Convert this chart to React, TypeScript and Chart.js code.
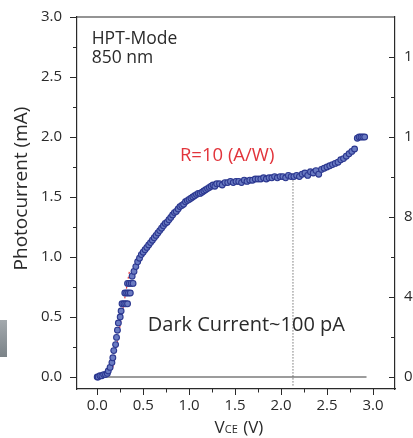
import React, { useEffect, useRef } from "react";
import { Chart, registerables } from "chart.js";

Chart.register(...registerables);

// Photocurrent sweep (V_CE in volts, photocurrent in mA)
const V_CE = [
  0.0, 0.01, 0.03, 0.05, 0.07, 0.09, 0.11, 0.12, 0.14, 0.16, 0.17, 0.18, 0.2, 0.21, 0.22, 0.23, 0.25, 0.26,
  0.27, 0.29, 0.31, 0.33,
  0.3, 0.32, 0.34, 0.36,
  0.33, 0.35, 0.37, 0.39,
  0.38, 0.4, 0.42, 0.44, 0.46, 0.48, 0.5, 0.52, 0.54, 0.56, 0.58, 0.6, 0.62, 0.64, 0.66, 0.68, 0.7, 0.72,
  0.74, 0.76, 0.78, 0.8, 0.82, 0.84, 0.86, 0.88, 0.9, 0.92, 0.94, 0.96, 0.98, 1.0, 1.02, 1.04, 1.06, 1.08,
  1.1, 1.12, 1.14, 1.16, 1.18, 1.2, 1.22, 1.24, 1.26, 1.28, 1.3, 1.33, 1.36, 1.39, 1.42, 1.45, 1.48, 1.51,
  1.54, 1.57, 1.6, 1.63, 1.66, 1.69, 1.72, 1.75, 1.78, 1.81, 1.84, 1.87, 1.9, 1.93, 1.96, 1.99, 2.02, 2.05,
  2.08, 2.11, 2.14, 2.17, 2.2, 2.23, 2.26, 2.29, 2.32, 2.35, 2.38, 2.41, 2.44, 2.47, 2.5, 2.53, 2.56, 2.59,
  2.62, 2.65, 2.68, 2.71, 2.74, 2.77, 2.8, 2.83, 2.85, 2.87, 2.89, 2.91,
];
const PHOTO_MA = [
  0.0, 0.0, 0.01, 0.01, 0.02, 0.02, 0.03, 0.05, 0.08, 0.12, 0.16, 0.22, 0.27, 0.33, 0.39, 0.45, 0.5, 0.55,
  0.61, 0.61, 0.61, 0.61,
  0.7, 0.7, 0.7, 0.7,
  0.78, 0.78, 0.78, 0.78,
  0.84, 0.88, 0.92, 0.96, 0.99, 1.02, 1.04, 1.06, 1.08, 1.1, 1.12, 1.14, 1.16, 1.18, 1.2, 1.22, 1.24, 1.26,
  1.28, 1.29, 1.31, 1.33, 1.35, 1.37, 1.38, 1.4, 1.42, 1.43, 1.44, 1.46, 1.47, 1.48, 1.49, 1.5, 1.51, 1.52,
  1.53, 1.53, 1.54, 1.55, 1.56, 1.57, 1.58, 1.59, 1.6, 1.59, 1.61, 1.61, 1.6, 1.62, 1.62, 1.63, 1.62, 1.63,
  1.63, 1.62, 1.64, 1.63, 1.64, 1.64, 1.65, 1.65, 1.65, 1.66, 1.65, 1.66, 1.66, 1.67, 1.66, 1.67, 1.67, 1.66,
  1.68, 1.67, 1.67, 1.68, 1.67, 1.69, 1.7, 1.68, 1.71, 1.7, 1.72, 1.69, 1.73, 1.74, 1.75, 1.76, 1.77, 1.78,
  1.79, 1.81, 1.82, 1.84, 1.86, 1.88, 1.9, 1.99, 2.0, 2.0, 2.0, 2.0,
];

// Dark current (~0 on this scale)
const DARK_V = [0.03, 2.93];
const DARK_MA = [0, 0];

// Dotted marker at the operating point
const MARK_V = [2.13, 2.13];
const MARK_MA = [-0.07, 1.66];

// Red dashed slope guide
const FIT_V = [0.17, 0.35];
const FIT_MA = [0.08, 0.88];

const X_TICKS = [0, 0.5, 1.0, 1.5, 2.0, 2.5, 3.0];
const X_MINOR = [0.25, 0.75, 1.25, 1.75, 2.25, 2.75];
const Y_TICKS = [0, 0.5, 1.0, 1.5, 2.0, 2.5, 3.0];
const Y_MINOR = [0.25, 0.75, 1.25, 1.75, 2.25, 2.75];
const R_TICKS = [0, 4, 8, 12, 16];
const R_MINOR = [2, 6, 10, 14];

const FONT = "'Open Sans', 'DejaVu Sans', sans-serif";
const INK = "#2a2a2a";

const decorPlugin = {
  id: "decor",
  beforeDraw(chart: any) {
    const ctx = chart.ctx;
    ctx.save();
    const g = ctx.createLinearGradient(0, 320, 0, 357);
    g.addColorStop(0, "#a3a9ad");
    g.addColorStop(1, "#7b8388");
    ctx.fillStyle = g;
    ctx.fillRect(0, 320, 7, 37);
    ctx.restore();
  },
  afterDraw(chart: any) {
    const ctx = chart.ctx;
    const { left, right, top, bottom } = chart.chartArea;
    const x = chart.scales.x;
    const y = chart.scales.y;
    const y2 = chart.scales.y2;
    ctx.save();
    ctx.strokeStyle = INK;
    ctx.lineWidth = 1.2;
    // top frame
    ctx.beginPath();
    ctx.moveTo(left, top);
    ctx.lineTo(right, top);
    ctx.stroke();
    ctx.lineWidth = 1;
    const tick = (x1: number, y1: number, x2: number, y2p: number) => {
      ctx.beginPath();
      ctx.moveTo(x1, y1);
      ctx.lineTo(x2, y2p);
      ctx.stroke();
    };
    Y_TICKS.forEach((v) => { const p = Math.round(y.getPixelForValue(v)) + 0.5; tick(left - 7, p, left, p); });
    Y_MINOR.forEach((v) => { const p = Math.round(y.getPixelForValue(v)) + 0.5; tick(left - 4, p, left, p); });
    X_TICKS.forEach((v) => { const p = Math.round(x.getPixelForValue(v)) + 0.5; tick(p, bottom, p, bottom + 6); });
    X_MINOR.forEach((v) => { const p = Math.round(x.getPixelForValue(v)) + 0.5; tick(p, bottom, p, bottom + 3.5); });
    R_TICKS.forEach((v) => { const p = Math.round(y2.getPixelForValue(v)) + 0.5; tick(right - 6, p, right, p); });
    R_MINOR.forEach((v) => { const p = Math.round(y2.getPixelForValue(v)) + 0.5; tick(right - 4, p, right, p); });

    // annotations
    ctx.textBaseline = "alphabetic";
    ctx.textAlign = "left";
    ctx.fillStyle = INK;
    ctx.font = `17.5px ${FONT}`;
    ctx.fillText("HPT-Mode", x.getPixelForValue(-0.06), y.getPixelForValue(2.775));
    ctx.fillText("850 nm", x.getPixelForValue(-0.06), y.getPixelForValue(2.617));
    ctx.fillStyle = "#e2343b";
    ctx.font = `18.5px ${FONT}`;
    ctx.fillText("R=10 (A/W)", x.getPixelForValue(0.9), y.getPixelForValue(1.8));
    ctx.fillStyle = INK;
    ctx.font = `20px ${FONT}`;
    ctx.fillText("Dark Current~100 pA", x.getPixelForValue(0.55), y.getPixelForValue(0.385));

    // y-axis title
    ctx.save();
    ctx.translate(27, 188.5);
    ctx.rotate(-Math.PI / 2);
    ctx.textAlign = "center";
    ctx.font = `19px ${FONT}`;
    ctx.fillText("Photocurrent (mA)", 0, 0);
    ctx.restore();

    // x-axis title with subscript
    const base = 433;
    ctx.font = `17px ${FONT}`;
    const wV = ctx.measureText("V").width;
    ctx.font = `11px ${FONT}`;
    const wSub = ctx.measureText("CE").width;
    ctx.font = `17px ${FONT}`;
    const wRest = ctx.measureText(" (V)").width;
    const total = wV + wSub + 1 + wRest;
    let cx = (left + right) / 2 - total / 2 + 3;
    ctx.fillText("V", cx, base);
    cx += wV;
    ctx.font = `11px ${FONT}`;
    ctx.fillText("CE", cx, base);
    cx += wSub + 1;
    ctx.font = `17px ${FONT}`;
    ctx.fillText(" (V)", cx, base);
    ctx.restore();
  },
};

export default function App() {
  const ref = useRef<HTMLCanvasElement | null>(null);
  useEffect(() => {
    if (!ref.current) return;
    const pts = V_CE.map((v, i) => ({ x: v, y: PHOTO_MA[i] }));
    const chart = new Chart(ref.current, {
      type: "scatter",
      data: {
        datasets: [
          {
            label: "Photocurrent",
            data: pts,
            pointRadius: 2.9,
            pointBorderWidth: 1.1,
            pointBorderColor: "#2c3890",
            pointBackgroundColor: "#6a7bc2",
            showLine: false,
          },
          {
            label: "Dark current",
            data: DARK_V.map((v, i) => ({ x: v, y: DARK_MA[i] })),
            showLine: true,
            pointRadius: 0,
            borderColor: "#3a3a3a",
            borderWidth: 1.2,
          },
          {
            label: "Marker",
            data: MARK_V.map((v, i) => ({ x: v, y: MARK_MA[i] })),
            showLine: true,
            pointRadius: 0,
            borderColor: "#333",
            borderWidth: 1,
            borderDash: [1, 2],
          },
          {
            label: "Fit",
            data: FIT_V.map((v, i) => ({ x: v, y: FIT_MA[i] })),
            showLine: true,
            pointRadius: 0,
            borderColor: "#e8383d",
            borderWidth: 1.2,
            borderDash: [2, 3],
          },
        ],
      },
      options: {
        animation: false,
        responsive: false,
        devicePixelRatio: 1,
        layout: { padding: { top: 17, left: 0, right: 0, bottom: 0 } },
        plugins: { legend: { display: false }, tooltip: { enabled: false } },
        scales: {
          x: {
            type: "linear",
            min: -0.22,
            max: 3.24,
            afterBuildTicks: (s: any) => { s.ticks = X_TICKS.map((v) => ({ value: v })); },
            afterFit: (s: any) => { s.height = 49; },
            ticks: {
              color: INK,
              font: { family: FONT, size: 15 },
              padding: 2,
              maxRotation: 0,
              callback: (v: any) => Number(v).toFixed(1),
            },
            grid: { display: true, drawOnChartArea: false, drawTicks: true, tickLength: 6, tickColor: "transparent" },
            border: { display: true, color: INK, width: 1.2 },
          },
          y: {
            type: "linear",
            position: "left",
            min: -0.1,
            max: 3.0,
            afterBuildTicks: (s: any) => { s.ticks = Y_TICKS.map((v) => ({ value: v })); },
            afterFit: (s: any) => { s.width = 77; },
            ticks: {
              color: INK,
              font: { family: FONT, size: 15 },
              padding: 8,
              callback: (v: any) => Number(v).toFixed(1),
            },
            grid: { display: true, drawOnChartArea: false, drawTicks: true, tickLength: 7, tickColor: "transparent" },
            border: { display: true, color: INK, width: 1.2 },
          },
          y2: {
            type: "linear",
            position: "right",
            min: -0.6,
            max: 18,
            afterBuildTicks: (s: any) => { s.ticks = R_TICKS.map((v) => ({ value: v })); },
            afterFit: (s: any) => { s.width = 45; },
            ticks: {
              color: INK,
              font: { family: FONT, size: 15 },
              padding: 3,
              callback: (v: any) => String(v),
            },
            grid: { display: true, drawOnChartArea: false, drawTicks: true, tickLength: 6, tickColor: "transparent" },
            border: { display: true, color: INK, width: 1.2 },
          },
        },
      },
      plugins: [decorPlugin],
    });
    return () => chart.destroy();
  }, []);

  return (
    <div
      style={{
        position: "fixed",
        left: 0,
        top: 0,
        width: 413,
        height: 438,
        overflow: "hidden",
        background: "#fff",
      }}
    >
      <canvas ref={ref} width={440} height={438} style={{ display: "block" }} />
    </div>
  );
}
